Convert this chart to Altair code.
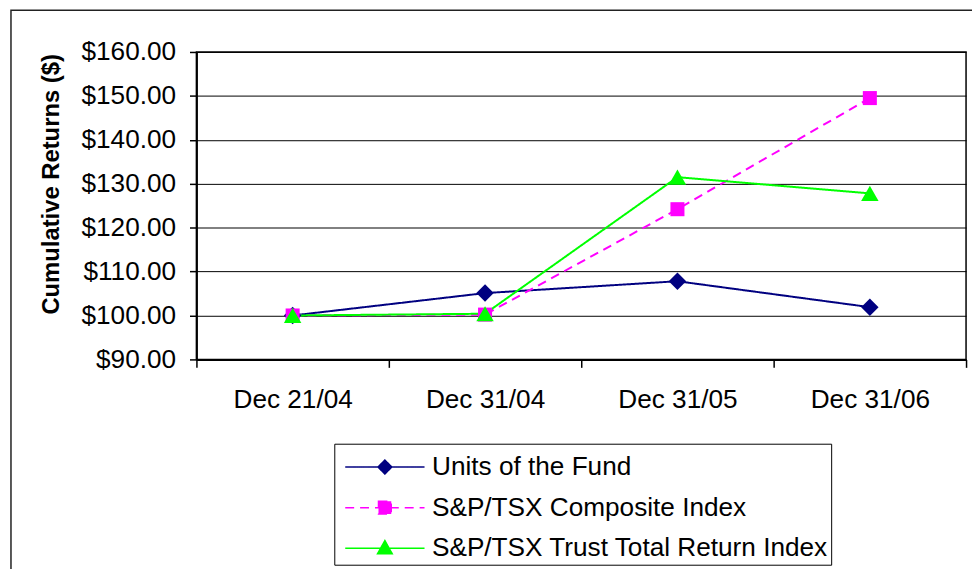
import altair as alt
import pandas as pd

# ---- data ----
dates = ["Dec 21/04", "Dec 31/04", "Dec 31/05", "Dec 31/06"]
series_names = [
    "Units of the Fund",
    "S&P/TSX Composite Index",
    "S&P/TSX Trust Total Return Index",
]
fund = [100.0, 105.1, 107.8, 101.9]
composite = [100.0, 100.2, 124.2, 149.5]
trust = [100.0, 100.4, 131.5, 127.8]
y_ticks = [90, 100, 110, 120, 130, 140, 150, 160]

# ---- styles ----
colors = ["#000080", "#FF00FF", "#00FF00"]
dashes = [[1, 0], [9, 6], [1, 0]]
marker_shapes = ["diamond", "square", "triangle-up"]
marker_sizes = [310, 200, 310]
legend_paths = [
    "M-2.05,0H2.05M0,-0.36L0.36,0L0,0.36L-0.36,0Z",
    "M-2.05,0H2.05M-0.33,-0.33H0.33V0.33H-0.33Z",
    "M-2.05,0H2.05M0,-0.4L0.38,0.28H-0.38Z",
]
FONT = "Liberation Sans, Arial, sans-serif"
FS = 26.4

rows = []
for name, vals in zip(series_names, [fund, composite, trust]):
    for d, v in zip(dates, vals):
        rows.append({"date": d, "value": v, "series": name})
df = pd.DataFrame(rows)

x_enc = alt.X(
    "date:N",
    sort=dates,
    scale=alt.Scale(type="band", domain=dates, paddingInner=0, paddingOuter=0),
    axis=alt.Axis(
        title=None, labelAngle=0, tickBand="extent", tickSize=8, tickColor="#000",
        tickWidth=1.5, domainColor="#000", domainWidth=2, labelFont=FONT,
        labelFontSize=FS, labelColor="#000", labelPadding=19, grid=False,
    ),
)
y_enc = alt.Y(
    "value:Q",
    scale=alt.Scale(domain=[90, 160], nice=False, zero=False),
    axis=alt.Axis(
        values=y_ticks, format="$.2f", title="Cumulative Returns ($)",
        titleFont=FONT, titleFontSize=24, titleFontWeight="bold", titleColor="#000",
        titleAngle=270, titleAlign="center", titleBaseline="middle",
        titleX=-146, titleY=133,
        labelFont=FONT, labelFontSize=FS, labelColor="#000", labelPadding=14,
        tickSize=7, tickColor="#000", tickWidth=1.5,
        domainColor="#000", domainWidth=2,
        grid=True, gridColor="#000", gridWidth=1, gridOpacity=1,
    ),
)

stroke_scale = alt.Scale(domain=series_names, range=colors)
fill_scale = alt.Scale(domain=series_names, range=colors)
dash_scale = alt.Scale(domain=series_names, range=dashes)
shape_scale = alt.Scale(domain=series_names, range=legend_paths)

border = alt.Chart(alt.Data(values=[{"a": 1}])).mark_rect(
    fill="transparent", stroke="#222", strokeWidth=1.5
).encode(
    x=alt.value(-187), x2=alt.value(805), y=alt.value(-42), y2=alt.value(600)
)

base = alt.Chart(df)

lines = base.mark_line(strokeWidth=2).encode(
    x=x_enc,
    y=y_enc,
    stroke=alt.Stroke("series:N", scale=stroke_scale, title=None),
    strokeDash=alt.StrokeDash("series:N", scale=dash_scale, title=None),
)

point_layers = []
for name, shp, sz in zip(series_names, marker_shapes, marker_sizes):
    point_layers.append(
        base.transform_filter(alt.datum.series == name)
        .mark_point(filled=True, shape=shp, size=sz, opacity=1)
        .encode(
            x=x_enc,
            y=y_enc,
            fill=alt.Fill("series:N", scale=fill_scale, title=None),
        )
    )

legend_layer = base.transform_filter("datum.value < 0").mark_point(
    filled=True, opacity=1
).encode(
    x=x_enc,
    y=y_enc,
    shape=alt.Shape("series:N", scale=shape_scale, title=None),
    fill=alt.Fill("series:N", scale=fill_scale, title=None),
    stroke=alt.Stroke("series:N", scale=stroke_scale, title=None),
    strokeDash=alt.StrokeDash("series:N", scale=dash_scale, title=None),
)

chart = (
    alt.layer(border, lines, *point_layers, legend_layer)
    .properties(
        width=776,
        height=310,
        autosize="none",
        padding={"left": 190, "top": 42, "right": 6, "bottom": 209},
        background="white",
    )
    .configure_view(stroke="#000", strokeWidth=1.5, fill="white")
    .configure_legend(
        orient="none", legendX=139, legendY=395,
        strokeColor="#000", fillColor="white", padding=3,
        labelFont=FONT, labelFontSize=FS, labelColor="#000", labelLimit=0,
        symbolSize=1521, symbolStrokeWidth=1.5, symbolOffset=27.5,
        symbolOpacity=1,
        labelOffset=27, rowPadding=7,
        symbolFillColor="#000", symbolStrokeColor="#000",
    )
)

chart.save("out.html", embed_options={"renderer": "svg", "actions": False})
